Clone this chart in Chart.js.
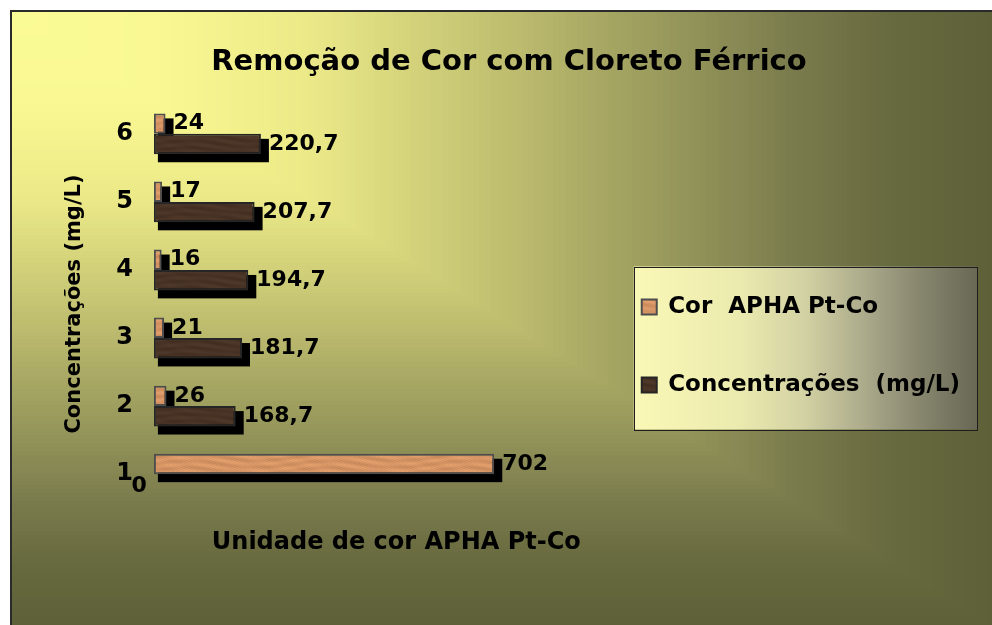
<!DOCTYPE html>
<html>
<head>
<meta charset="utf-8">
<script src="https://cdn.jsdelivr.net/npm/chart.js@4.4.1/dist/chart.umd.min.js"></script>
<style>
  html, body { margin: 0; padding: 0; background: #fff; overflow: hidden; }
  #frame { position: absolute; left: 10px; top: 10px; border-left: 2px solid #2a2a2a; border-top: 2px solid #2a2a2a; }
  #chart { display: block; }
</style>
</head>
<body>
<div id="frame"><canvas id="chart" width="980" height="613"></canvas></div>
<script>
// categories listed top to bottom, as in the picture
const categories = ['6', '5', '4', '3', '2', '1'];
const corApha = [24, 17, 16, 21, 26, 702];
const concentracoes = [220.7, 207.7, 194.7, 181.7, 168.7, 0];
const seriesNames = ['Cor  APHA Pt-Co', 'Concentrações  (mg/L)'];

const FONT = "'DejaVu Sans', sans-serif";
Chart.defaults.font.family = FONT;
Chart.defaults.font.weight = 'bold';
Chart.defaults.color = '#000';

// wood-like tile used as bar fill
function woodTile(base, amp) {
	const w = 140, h = 20;
	const c = document.createElement('canvas');
	c.width = w; c.height = h;
	const g = c.getContext('2d');
	const img = g.createImageData(w, h);
	const fx = Math.PI * 2 / w, fy = Math.PI * 2 / h;
	for (let y = 0; y < h; y++) {
		for (let x = 0; x < w; x++) {
			const grain = Math.sin(y * fy * 3 + Math.sin(x * fx) * 3) * 0.45
				+ Math.sin(x * fx * 29 + y * fy * 9) * 0.3
				+ Math.sin(x * fx * 4 - y * fy * 2) * 0.25;
			const k = (y * w + x) * 4;
			img.data[k] = base[0] + grain * amp;
			img.data[k + 1] = base[1] + grain * amp * 0.8;
			img.data[k + 2] = base[2] + grain * amp * 0.6;
			img.data[k + 3] = 255;
		}
	}
	g.putImageData(img, 0, 0);
	return c;
}

const canvas = document.getElementById('chart');
const ctx = canvas.getContext('2d');
const lightWood = ctx.createPattern(woodTile([214, 148, 100], 18), 'repeat');
const darkWood = ctx.createPattern(woodTile([72, 51, 37], 9), 'repeat');

function mix(stops, t) {
	for (let i = 1; i < stops.length; i++) {
		if (t <= stops[i][0]) {
			const a = stops[i - 1], b = stops[i];
			const f = (t - a[0]) / (b[0] - a[0]);
			return 'rgb(' + [1, 2, 3].map(j => Math.round(a[j] + (b[j] - a[j]) * f)).join(',') + ')';
		}
	}
	const l = stops[stops.length - 1];
	return 'rgb(' + l[1] + ',' + l[2] + ',' + l[3] + ')';
}

const bgStops = [
	[0, 251, 251, 150], [0.15, 249, 248, 146], [0.3, 236, 234, 136], [0.4, 214, 213, 124],
	[0.5, 192, 191, 112], [0.6, 168, 168, 100], [0.7, 145, 146, 88], [0.8, 122, 123, 76],
	[0.9, 103, 105, 62], [1, 94, 97, 56]
];

const backdrop = {
	id: 'backdrop',
	beforeDraw(chart) {
		const c = chart.ctx;
		const W = chart.width + 2, H = chart.height + 2;
		c.save();
		// rectangular "from corner" gradient
		const N = 160;
		for (let i = N; i >= 1; i--) {
			const t = i / N;
			c.fillStyle = mix(bgStops, t);
			c.fillRect(0, 0, Math.ceil(W * t), Math.ceil(H * t));
		}
		// legend frame
		const lg = chart.legend;
		const hb = lg.legendHitBoxes;
		if (hb && hb.length) {
			const x0 = hb[0].left - 8;
			const y0 = hb[0].top - 29;
			const x1 = lg.right + 7;
			const last = hb[hb.length - 1];
			const y1 = last.top + last.height + 33;
			const grad = c.createLinearGradient(x0, 0, x1, 0);
			grad.addColorStop(0, '#f9f8b6');
			grad.addColorStop(0.3, '#ecebaf');
			grad.addColorStop(0.5, '#d2d1a3');
			grad.addColorStop(0.7, '#a5a487');
			grad.addColorStop(0.85, '#84836b');
			grad.addColorStop(1, '#686855');
			c.fillStyle = grad;
			c.fillRect(x0, y0, x1 - x0, y1 - y0);
			c.strokeStyle = '#1e1e1e';
			c.lineWidth = 1;
			c.strokeRect(Math.round(x0) + 0.5, Math.round(y0) + 0.5, Math.round(x1 - x0), Math.round(y1 - y0));
		}
		c.restore();
	}
};

// black drop shadow behind each bar
const barShadow = {
	id: 'barShadow',
	beforeDatasetsDraw(chart) {
		const c = chart.ctx;
		c.save();
		c.fillStyle = '#000';
		chart.data.datasets.forEach((ds, i) => {
			chart.getDatasetMeta(i).data.forEach((bar, j) => {
				if (!ds.data[j]) return;
				const left = Math.min(bar.base, bar.x), right = Math.max(bar.base, bar.x);
				const top = bar.y - bar.height / 2, bottom = bar.y + bar.height / 2;
				c.fillRect(left + 4, top + 5, right - left + 4, bottom - top + 3);
			});
		});
		c.restore();
	}
};

const valueLabels = {
	id: 'valueLabels',
	afterDatasetsDraw(chart) {
		const c = chart.ctx;
		c.save();
		c.font = 'bold 22px ' + FONT;
		c.fillStyle = '#000';
		c.textBaseline = 'middle';
		chart.data.datasets.forEach((ds, i) => {
			chart.getDatasetMeta(i).data.forEach((bar, j) => {
				const v = ds.data[j];
				const txt = String(v).replace('.', ',');
				if (v === 0) {
					c.textAlign = 'right';
					c.fillText(txt, bar.base - 7, bar.y + 2);
				} else {
					c.textAlign = 'left';
					c.fillText(txt, bar.x + 8, bar.y);
				}
			});
		});
		c.restore();
	}
};

new Chart(ctx, {
	type: 'bar',
	data: {
		labels: categories,
		datasets: [{
			label: seriesNames[0],
			data: corApha,
			backgroundColor: lightWood,
			borderColor: '#4d4d4d',
			borderWidth: 2,
			borderSkipped: false,
			categoryPercentage: 0.6,
			barPercentage: 1
		}, {
			label: seriesNames[1],
			data: concentracoes,
			backgroundColor: darkWood,
			borderColor: '#262626',
			borderWidth: 2,
			borderSkipped: false,
			categoryPercentage: 0.6,
			barPercentage: 1
		}]
	},
	options: {
		indexAxis: 'y',
		responsive: false,
		animation: false,
		layout: { padding: { left: 36, right: 22, top: 0, bottom: 0 } },
		scales: {
			x: {
				min: 0,
				max: 1000,
				grid: { display: false, drawTicks: false },
				border: { display: false },
				ticks: { display: false },
				title: {
					display: true,
					text: 'Unidade de cor APHA Pt-Co',
					font: { size: 24, weight: 'bold' },
					color: '#000',
					padding: { top: 20, bottom: 68 }
				}
			},
			y: {
				grid: { display: false, drawTicks: false },
				border: { display: false },
				ticks: { font: { size: 24, weight: 'bold' }, color: '#000', padding: 21 },
				title: {
					display: true,
					text: 'Concentrações (mg/L)',
					font: { size: 21, weight: 'bold' },
					color: '#000',
					padding: { top: 14, bottom: 8 }
				}
			}
		},
		plugins: {
			title: {
				display: true,
				text: 'Remoção de Cor com Cloreto Férrico',
				font: { size: 29, weight: 'bold' },
				color: '#000',
				padding: { top: 33, bottom: 20 }
			},
			legend: {
				position: 'right',
				maxWidth: 400,
				title: { display: true, text: '', font: { size: 10 }, padding: { top: 43, bottom: 0 } },
				labels: {
					font: { size: 23, weight: 'bold' },
					color: '#000',
					boxWidth: 15,
					boxHeight: 15,
					padding: 3,
					generateLabels(chart) {
						const items = Chart.defaults.plugins.legend.labels.generateLabels(chart);
						const gap = { text: '', fillStyle: 'rgba(0,0,0,0)', strokeStyle: 'rgba(0,0,0,0)', lineWidth: 0, hidden: false };
						return [items[0], Object.assign({}, gap), Object.assign({}, gap), items[1]];
					}
				}
			},
			tooltip: { enabled: false }
		}
	},
	plugins: [backdrop, barShadow, valueLabels]
});
</script>
</body>
</html>
